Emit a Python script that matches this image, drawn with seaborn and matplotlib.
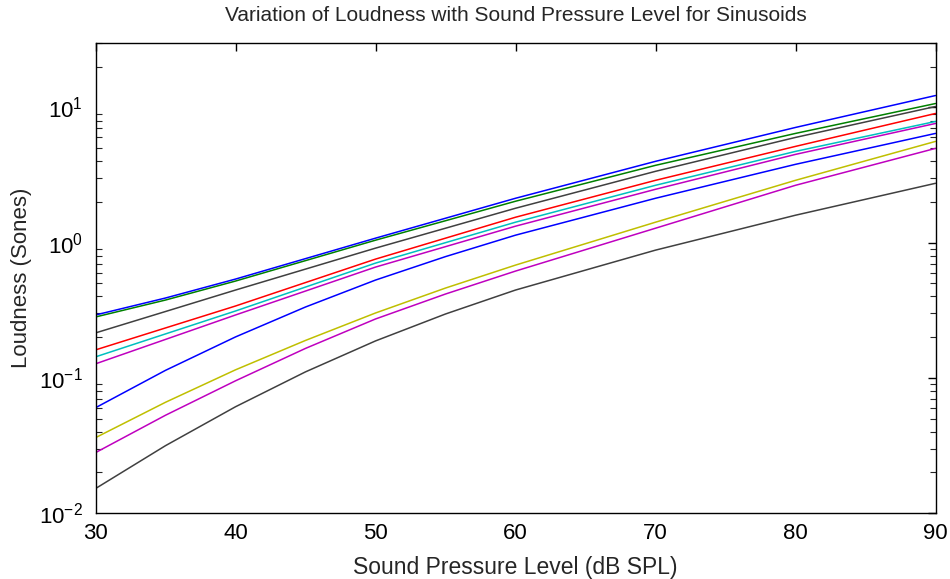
import matplotlib
matplotlib.use("Agg")
import matplotlib.pyplot as plt
import seaborn as sns
import pandas as pd
import numpy as np

# Sound pressure level (dB SPL) sample points
spl = [30, 35, 40, 45, 50, 55, 60, 65, 70, 75, 80, 85, 90]

# Loudness (sones) per curve
curve_names = ["c01", "c02", "c03", "c04", "c05", "c06", "c07", "c08", "c09", "c10"]
loud_c01 = [0.2917, 0.3895, 0.5377, 0.7619, 1.0795, 1.516, 2.130, 2.917, 3.996, 5.333, 7.118, 9.343, 12.26]
loud_c02 = [0.2819, 0.3763, 0.5199, 0.7364, 1.043, 1.453, 2.025, 2.749, 3.733, 4.898, 6.430, 8.295, 10.70]
loud_c03 = [0.2149, 0.3095, 0.4461, 0.6374, 0.9108, 1.279, 1.797, 2.461, 3.371, 4.499, 6.005, 7.816, 10.17]
loud_c04 = [0.1609, 0.2339, 0.3399, 0.5068, 0.7555, 1.0795, 1.542, 2.112, 2.892, 3.862, 5.155, 6.824, 9.031]
loud_c05 = [0.1429, 0.2113, 0.3122, 0.4694, 0.7058, 1.000, 1.417, 1.941, 2.657, 3.546, 4.734, 6.109, 7.883]
loud_c06 = [0.1269, 0.1924, 0.2917, 0.4386, 0.6596, 0.9343, 1.324, 1.813, 2.482, 3.342, 4.499, 5.855, 7.619]
loud_c07 = [0.06006, 0.1136, 0.2007, 0.3342, 0.5288, 0.7885, 1.136, 1.555, 2.130, 2.844, 3.797, 4.940, 6.430]
loud_c08 = [0.03607, 0.06594, 0.1146, 0.1891, 0.3018, 0.4615, 0.6823, 0.9831, 1.417, 2.025, 2.892, 4.030, 5.612]
loud_c09 = [0.02796, 0.05287, 0.09504, 0.1651, 0.2725, 0.4169, 0.6162, 0.8877, 1.279, 1.844, 2.657, 3.638, 4.983]
loud_c10 = [0.01516, 0.03149, 0.06109, 0.1107, 0.1875, 0.2967, 0.4461, 0.6266, 0.8804, 1.185, 1.596, 2.094, 2.749]
all_curves = [loud_c01, loud_c02, loud_c03, loud_c04, loud_c05,
              loud_c06, loud_c07, loud_c08, loud_c09, loud_c10]

curve_colors = ["#0000ff", "#008000", "#404040", "#ff0000", "#00bfbf",
                "#bf00bf", "#0000ff", "#bfbf00", "#bf00bf", "#404040"]

x_ticks = [30, 40, 50, 60, 70, 80, 90]

rows = []
for name, vals in zip(curve_names, all_curves):
    for xv, yv in zip(spl, vals):
        rows.append({"SPL": xv, "Loudness": yv, "curve": name})
df = pd.DataFrame(rows)

sns.set_style("white")
plt.rcParams['font.family'] = ['Liberation Sans', 'DejaVu Sans']
plt.rcParams['mathtext.fontset'] = 'custom'
plt.rcParams['mathtext.rm'] = 'Liberation Sans'

fig = plt.figure(figsize=(9.5, 5.79), dpi=100)
ax = fig.add_axes([95.5 / 950, (579 - 513) / 579, 840 / 950, 470 / 579])

order = curve_names[::-1]
pal = dict(zip(curve_names, curve_colors))
sns.lineplot(data=df, x="SPL", y="Loudness", hue="curve", hue_order=order,
             palette=pal, ax=ax, legend=False, linewidth=1.1, estimator=None,
             sort=True)

ax.set_yscale("log")
ax.set_xlim(30, 90)
ax.set_ylim(0.01, 30)
ax.set_xticks(x_ticks)
ax.set_xticklabels([str(t) for t in x_ticks])

for s in ax.spines.values():
    s.set_visible(True)
    s.set_color("black")
    s.set_linewidth(1.0)

ax.tick_params(axis="both", which="major", direction="in", length=6, width=1.0,
               top=True, right=True, labelsize=16, colors="black")
ax.tick_params(axis="x", which="major", pad=7)
ax.tick_params(axis="y", which="major", pad=9)
ax.tick_params(axis="y", which="minor", direction="in", length=4, width=0.8,
               left=True, right=True)
ax.tick_params(axis="x", which="minor", bottom=False, top=False)

ax.set_title("Variation of Loudness with Sound Pressure Level for Sinusoids",
             fontsize=15, pad=16)
ax.set_xlabel("Sound Pressure Level (dB SPL)", fontsize=16.5, labelpad=9)
ax.set_ylabel("Loudness (Sones)", fontsize=16, labelpad=5)

fig.savefig("out.png", dpi=100, facecolor="white")
